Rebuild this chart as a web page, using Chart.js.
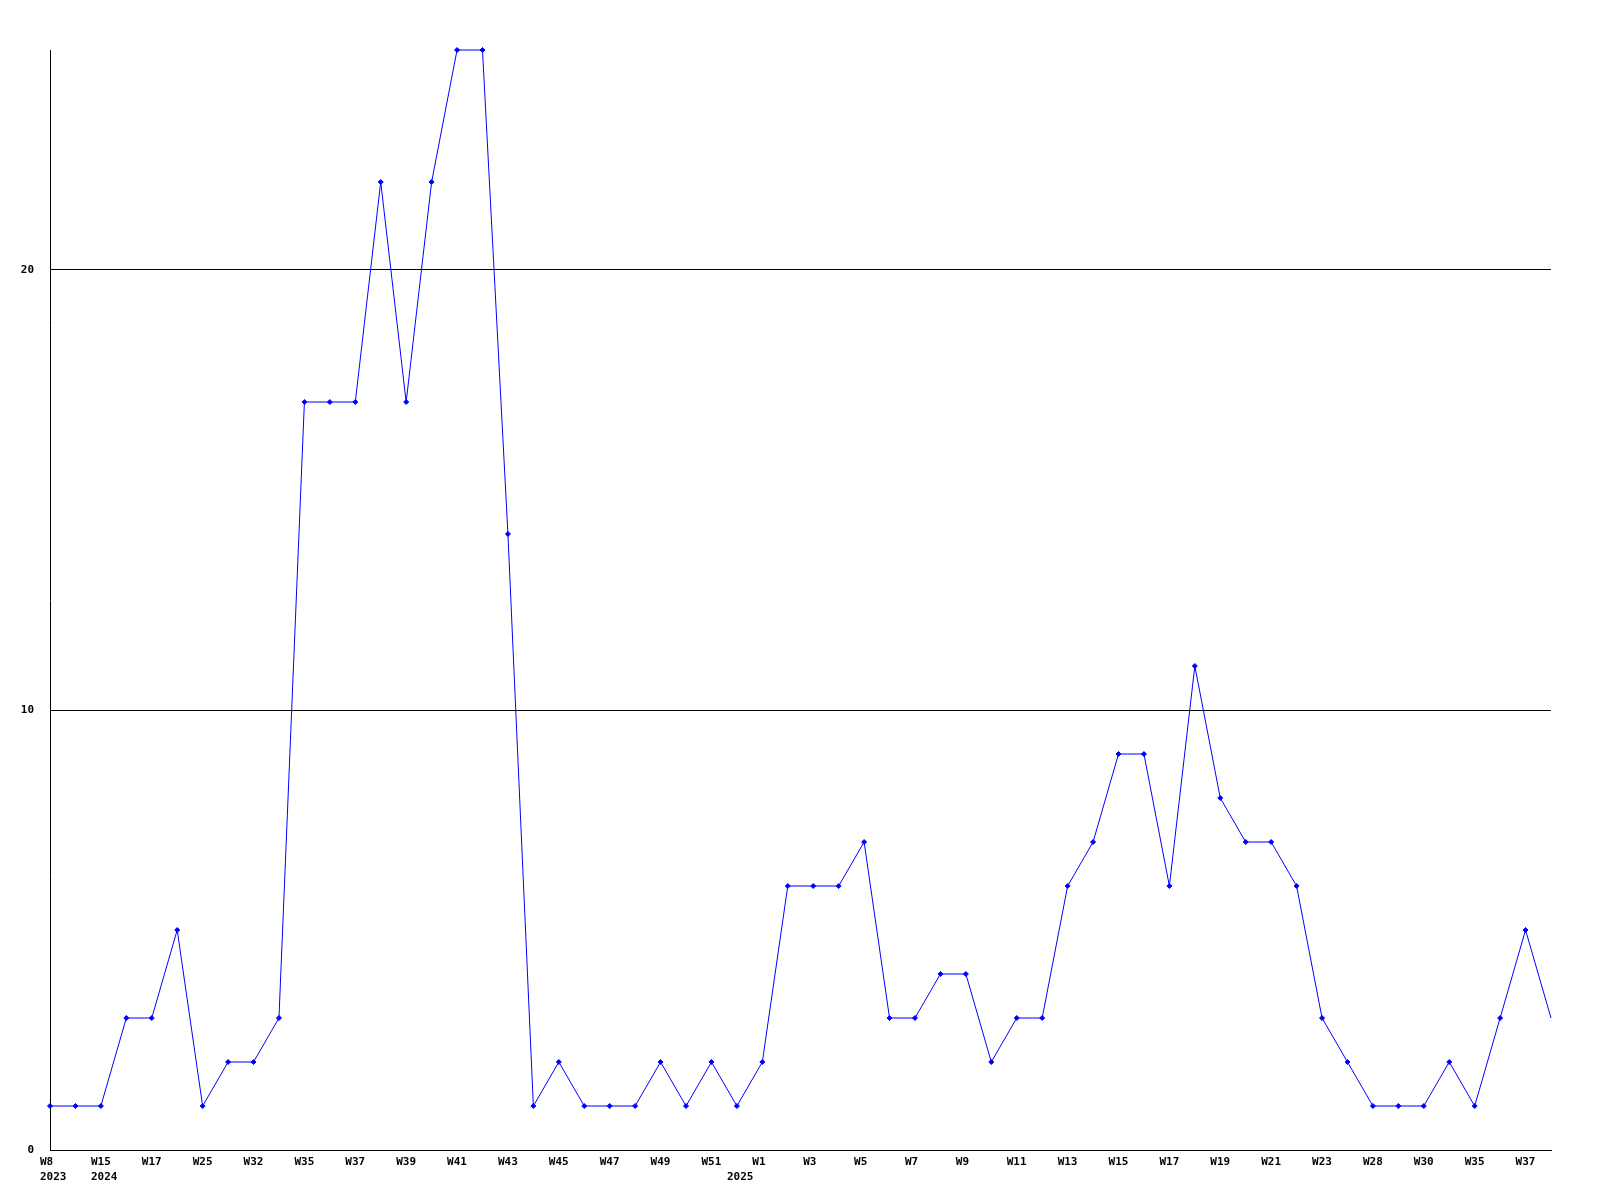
<!DOCTYPE html>
<html>
<head>
<meta charset="utf-8">
<script src="https://cdn.jsdelivr.net/npm/chart.js@4/dist/chart.umd.min.js"></script>
<style>
html,body{margin:0;padding:0;background:#fff;}
#wrap{width:1600px;height:1200px;position:relative;}
</style>
</head>
<body>
<div id="wrap"><canvas id="c" width="1600" height="1200"></canvas></div>
<script>
// Tick labels (one for every second point)
const weekLabels = ["W8","W15","W17","W25","W32","W35","W37","W39","W41","W43","W45","W47","W49","W51","W1","W3","W5","W7","W9","W11","W13","W15","W17","W19","W21","W23","W28","W30","W35","W37"];
// Year labels and the point index each one sits under
const yearLabels = ["2023","2024","2025"];
const yearPoints = [0, 2, 27];
// Series values (one per point)
const counts = [1,1,1,3,3,5,1,2,2,3,17,17,17,22,17,22,25,25,14,1,2,1,1,1,2,1,2,1,2,6,6,6,7,3,3,4,4,2,3,3,6,7,9,9,6,11,8,7,7,6,3,2,1,1,1,2,1,3,5,3];
const yTicks = [0,10,20];
const yMax = 25;

const categories = counts.map((_, i) => (i % 2 === 0) ? weekLabels[i / 2] : "");

const FONT = 'bold 11px "DejaVu Sans Mono", "Liberation Mono", monospace';

const labelPlugin = {
  id: 'labels',
  afterDraw(chart) {
    const ctx = chart.ctx;
    const xs = chart.scales.x, ys = chart.scales.y;
    ctx.save();
    ctx.font = FONT;
    ctx.fillStyle = '#000';
    ctx.textAlign = 'right';
    ctx.textBaseline = 'middle';
    yTicks.forEach(v => {
      ctx.fillText(String(v), 34, ys.getPixelForValue(v));
    });
    ctx.textAlign = 'left';
    ctx.textBaseline = 'top';
    weekLabels.forEach((w, k) => {
      ctx.fillText(w, xs.getPixelForValue(k * 2) - 10, chart.chartArea.bottom + 7);
    });
    yearLabels.forEach((y, k) => {
      ctx.fillText(y, xs.getPixelForValue(yearPoints[k]) - 10, chart.chartArea.bottom + 22);
    });
    ctx.restore();
  }
};

new Chart(document.getElementById('c'), {
  type: 'line',
  data: {
    labels: categories,
    datasets: [{
      data: counts,
      borderColor: '#0000ff',
      backgroundColor: '#0000ff',
      borderWidth: 1,
      pointStyle: 'rectRot',
      pointRadius: ctx => (ctx.dataIndex === counts.length - 1 ? 0 : 2.5),
      pointBorderWidth: 1,
      pointHoverRadius: 2.5,
      tension: 0,
      fill: false,
      clip: 4
    }]
  },
  options: {
    responsive: false,
    animation: false,
    devicePixelRatio: 1,
    layout: { padding: { left: 50, top: 50, right: 49, bottom: 50 } },
    plugins: { legend: { display: false }, tooltip: { enabled: false } },
    scales: {
      x: {
        type: 'category',
        offset: false,
        ticks: { display: false },
        grid: { display: false, drawTicks: false },
        border: { display: true, color: '#000', width: 1 }
      },
      y: {
        min: 0,
        max: yMax,
        afterBuildTicks(scale) { scale.ticks = yTicks.map(v => ({ value: v })); },
        ticks: { display: false },
        grid: { color: '#000', lineWidth: 1, drawTicks: false },
        border: { display: true, color: '#000', width: 1 }
      }
    }
  },
  plugins: [labelPlugin]
});
</script>
</body>
</html>
